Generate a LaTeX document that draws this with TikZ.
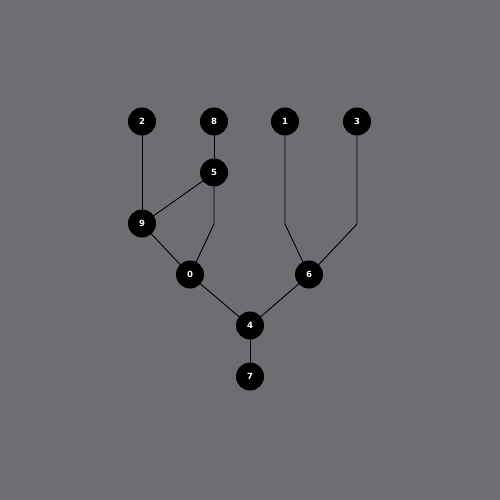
\documentclass[tikz,border=0pt]{standalone}
\usepackage{fontspec}
\setmainfont{DejaVu Sans}
\definecolor{bg}{HTML}{6D6E72}
\begin{document}
\begin{tikzpicture}[x=1pt,y=-1pt,
  vtx/.style={circle,fill=black,minimum size=28pt,inner sep=0pt,text=white,font=\bfseries\fontsize{8.5}{8.5}\selectfont},
  edge/.style={draw=black,line width=0.9pt}]
\fill[bg] (0,0) rectangle (500,500);
\useasboundingbox (0,0) rectangle (500,500);
\coordinate (b5) at (214,224);
\coordinate (b1) at (285,224);
\coordinate (b3) at (357,224);
\path (142,122) coordinate (p2) (214,122) coordinate (p8) (285,122) coordinate (p1)
  (357,122) coordinate (p3) (214,173) coordinate (p5) (142,224) coordinate (p9)
  (190,275) coordinate (p0) (309,275) coordinate (p6) (250,326) coordinate (p4)
  (250,377) coordinate (p7);
\draw[edge] (p2) -- (p9);
\draw[edge] (p8) -- (p5);
\draw[edge] (p5) -- (p9);
\draw[edge] (p5) -- (b5) -- (p0);
\draw[edge] (p9) -- (p0);
\draw[edge] (p1) -- (b1) -- (p6);
\draw[edge] (p3) -- (b3) -- (p6);
\draw[edge] (p0) -- (p4);
\draw[edge] (p6) -- (p4);
\draw[edge] (p4) -- (p7);
\node[vtx] (n2) at ([yshift=0.5pt]p2) {2};
\node[vtx] (n8) at ([yshift=0.5pt]p8) {8};
\node[vtx] (n1) at ([yshift=0.5pt]p1) {1};
\node[vtx] (n3) at ([yshift=0.5pt]p3) {3};
\node[vtx] (n5) at ([yshift=0.5pt]p5) {5};
\node[vtx] (n9) at ([yshift=0.5pt]p9) {9};
\node[vtx] (n0) at ([yshift=0.5pt]p0) {0};
\node[vtx] (n6) at ([yshift=0.5pt]p6) {6};
\node[vtx] (n4) at ([yshift=0.5pt]p4) {4};
\node[vtx] (n7) at ([yshift=0.5pt]p7) {7};
\end{tikzpicture}
\end{document}
